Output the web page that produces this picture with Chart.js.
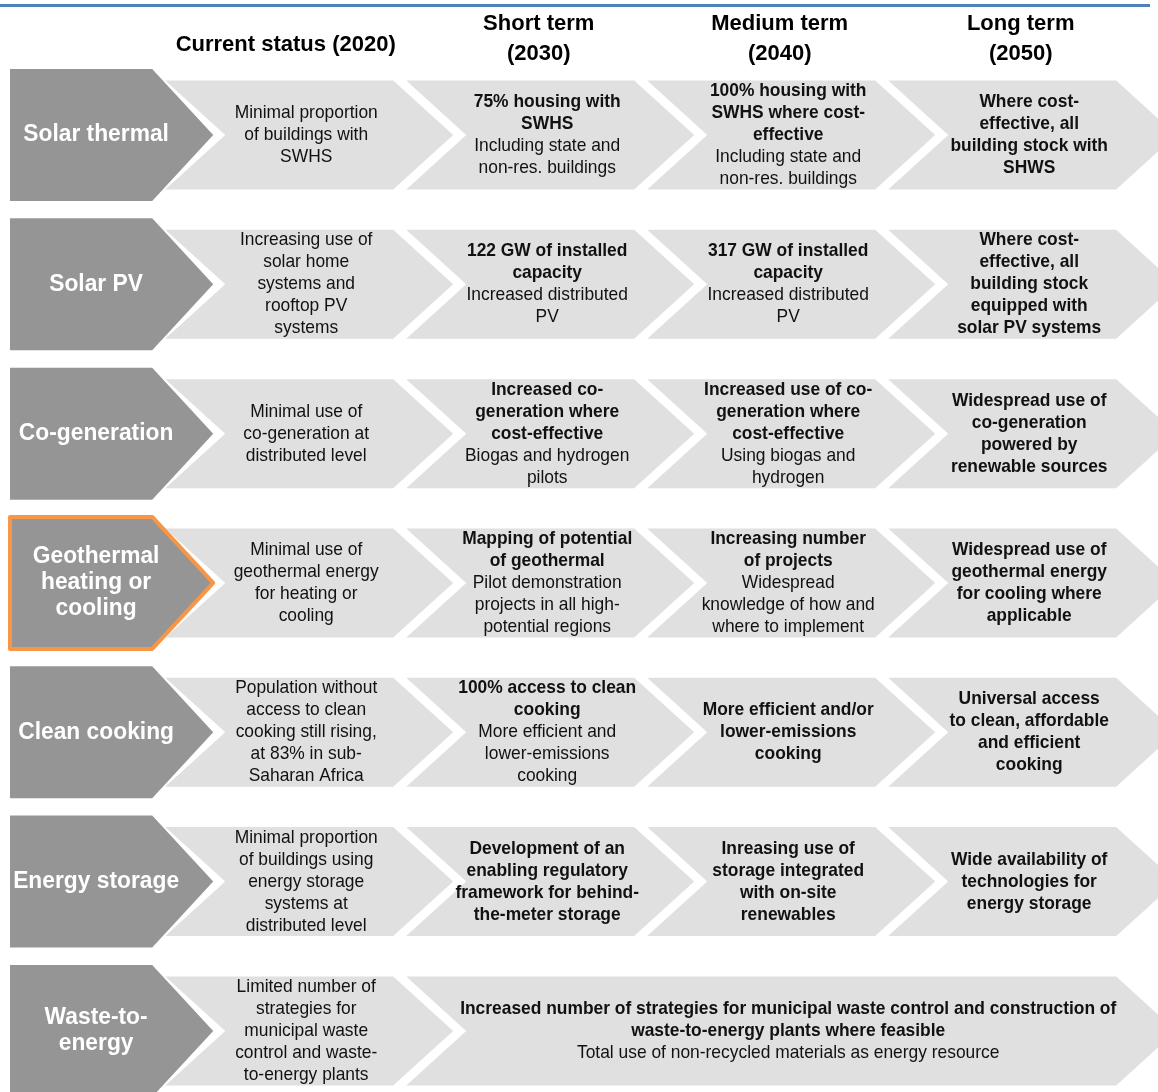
<!DOCTYPE html>
<html>
<head>
<meta charset="utf-8">
<script src="https://cdn.jsdelivr.net/npm/chart.js@4.4.0/dist/chart.umd.min.js"></script>
<style>
  html, body { margin: 0; padding: 0; background: #fff; }
</style>
</head>
<body>
<canvas id="roadmap" width="1158" height="1092"></canvas>
<script>
// Column headers (stages of the roadmap)
const stages = [
  ['Current status (2020)'],
  ['Short term', '(2030)'],
  ['Medium term', '(2040)'],
  ['Long term', '(2050)']
];

// Row labels (technologies)
const techs = [
  ['Solar thermal'],
  ['Solar PV'],
  ['Co-generation'],
  ['Geothermal', 'heating or', 'cooling'],
  ['Clean cooking'],
  ['Energy storage'],
  ['Waste-to-', 'energy']
];
const highlightedRow = 3;

// Cell texts per stage: b = bold lines, r = regular lines, null = merged into the cell before
const currentStatus = [
  { b: [], r: ['Minimal proportion', 'of buildings with', 'SWHS'] },
  { b: [], r: ['Increasing use of', 'solar home', 'systems and', 'rooftop PV', 'systems'] },
  { b: [], r: ['Minimal use of', 'co-generation at', 'distributed level'] },
  { b: [], r: ['Minimal use of', 'geothermal energy', 'for heating or', 'cooling'] },
  { b: [], r: ['Population without', 'access to clean', 'cooking still rising,', 'at 83% in sub-', 'Saharan Africa'] },
  { b: [], r: ['Minimal proportion', 'of buildings using', 'energy storage', 'systems at', 'distributed level'] },
  { b: [], r: ['Limited number of', 'strategies for', 'municipal waste', 'control and waste-', 'to-energy plants'] }
];
const shortTerm = [
  { b: ['75% housing with', 'SWHS'], r: ['Including state and', 'non-res. buildings'] },
  { b: ['122 GW of installed', 'capacity'], r: ['Increased distributed', 'PV'] },
  { b: ['Increased co-', 'generation where', 'cost-effective'], r: ['Biogas and hydrogen', 'pilots'] },
  { b: ['Mapping of potential', 'of geothermal'], r: ['Pilot demonstration', 'projects in all high-', 'potential regions'] },
  { b: ['100% access to clean', 'cooking'], r: ['More efficient and', 'lower-emissions', 'cooking'] },
  { b: ['Development of an', 'enabling regulatory', 'framework for behind-', 'the-meter storage'], r: [] },
  { b: ['Increased number of strategies for municipal waste control and construction of', 'waste-to-energy plants where feasible'],
    r: ['Total use of non-recycled materials as energy resource'] }
];
const mediumTerm = [
  { b: ['100% housing with', 'SWHS where cost-', 'effective'], r: ['Including state and', 'non-res. buildings'] },
  { b: ['317 GW of installed', 'capacity'], r: ['Increased distributed', 'PV'] },
  { b: ['Increased use of co-', 'generation where', 'cost-effective'], r: ['Using biogas and', 'hydrogen'] },
  { b: ['Increasing number', 'of projects'], r: ['Widespread', 'knowledge of how and', 'where to implement'] },
  { b: ['More efficient and/or', 'lower-emissions', 'cooking'], r: [] },
  { b: ['Inreasing use of', 'storage integrated', 'with on-site', 'renewables'], r: [] },
  null
];
const longTerm = [
  { b: ['Where cost-', 'effective, all', 'building stock with', 'SHWS'], r: [] },
  { b: ['Where cost-', 'effective, all', 'building stock', 'equipped with', 'solar PV systems'], r: [] },
  { b: ['Widespread use of', 'co-generation', 'powered by', 'renewable sources'], r: [] },
  { b: ['Widespread use of', 'geothermal energy', 'for cooling where', 'applicable'], r: [] },
  { b: ['Universal access', 'to clean, affordable', 'and efficient', 'cooking'], r: [] },
  { b: ['Wide availability of', 'technologies for', 'energy storage'], r: [] },
  null
];

const columns = [currentStatus, shortTerm, mediumTerm, longTerm];

// build floating bars: stage k spans [k-0.5, end+0.5]
const labelBars = techs.map((t, i) => ({ x: [-0.5, 0.5], y: i, lines: t }));
const cellBars = [];
techs.forEach((t, i) => {
  columns.forEach((col, c) => {
    const cell = col[i];
    if (!cell) return;
    let end = c;
    while (end + 1 < columns.length && !columns[end + 1][i]) end++;
    cellBars.push({ x: [c + 0.5, end + 1.5], y: i, cell: cell });
  });
});

const FONT = '"Liberation Sans", Arial, sans-serif';
const DARK = '#959595';
const LIGHT = '#e0e0e0';
const GAP = 13;

function chevron(ctx, left, right, cy, h, tip, notch) {
  const top = cy - h / 2, bottom = cy + h / 2;
  ctx.beginPath();
  ctx.moveTo(left, top);
  ctx.lineTo(right, top);
  ctx.lineTo(right + tip, cy);
  ctx.lineTo(right, bottom);
  ctx.lineTo(left, bottom);
  if (notch) ctx.lineTo(left + notch, cy);
  ctx.closePath();
}

// slightly condensed text, like the original
function narrowText(ctx, s, x, y, sx) {
  ctx.save();
  ctx.translate(x, y);
  ctx.scale(sx, 1);
  ctx.fillText(s, 0, 0);
  ctx.restore();
}

const roadmapPlugin = {
  id: 'roadmap',
  afterDatasetsDraw(chart) {
    const ctx = chart.ctx;
    const area = chart.chartArea;
    const xs = chart.scales.x;
    ctx.save();

    // blue rule on top
    ctx.fillStyle = '#4f81bd';
    ctx.fillRect(0, 4, 1150, 3);

    // headers
    ctx.fillStyle = '#000';
    ctx.font = 'bold 22px ' + FONT;
    ctx.textAlign = 'center';
    ctx.textBaseline = 'middle';
    stages.forEach((lines, k) => {
      const cx = xs.getPixelForValue(k + 1) + 12;
      if (lines.length === 1) narrowText(ctx, lines[0], cx - 12, 45, 1);
      else lines.forEach((l, j) => narrowText(ctx, l, cx, 24 + j * 30, 1));
    });

    // light chevrons + text
    chart.getDatasetMeta(1).data.forEach((el, i) => {
      const p = el.getProps(['x', 'y', 'base', 'height'], true);
      const left = Math.min(p.x, p.base), right = Math.max(p.x, p.base) - GAP;
      ctx.fillStyle = LIGHT;
      chevron(ctx, left, right, p.y, p.height, 60, 60);
      ctx.fill();
      const cell = cellBars[i].cell;
      const lines = cell.b.map(s => [s, true]).concat(cell.r.map(s => [s, false]));
      const cx = (left + right) / 2 + 27;
      const lh = 22;
      let y = p.y - (lines.length - 1) / 2 * lh;
      ctx.fillStyle = '#111';
      lines.forEach(([s, bold]) => {
        ctx.font = (bold ? 'bold ' : '') + '18.5px ' + FONT;
        narrowText(ctx, s, cx, y, 0.94);
        y += lh;
      });
    });

    // dark label chevrons
    chart.getDatasetMeta(0).data.forEach((el, i) => {
      const p = el.getProps(['x', 'y', 'base', 'height'], true);
      const left = Math.max(Math.min(p.x, p.base), area.left + 10);
      const right = Math.max(p.x, p.base) - GAP;
      chevron(ctx, left, right, p.y, p.height, 61, 0);
      ctx.fillStyle = DARK;
      ctx.fill();
      if (i === highlightedRow) {
        ctx.strokeStyle = '#f79646';
        ctx.lineWidth = 4;
        ctx.lineJoin = 'round';
        ctx.stroke();
      }
      const lines = labelBars[i].lines;
      const cx = (left + right) / 2 + 15;
      let y = p.y - (lines.length - 1) / 2 * 26;
      ctx.fillStyle = '#fff';
      ctx.font = 'bold 23.5px ' + FONT;
      lines.forEach(s => { narrowText(ctx, s, cx, y, 0.97); y += 26; });
    });
    ctx.restore();
  }
};

new Chart(document.getElementById('roadmap').getContext('2d'), {
  type: 'bar',
  data: {
    datasets: [
      { label: 'Technology', data: labelBars, barThickness: 132, grouped: false,
        backgroundColor: 'rgba(0,0,0,0)', borderWidth: 0 },
      { label: 'Stages', data: cellBars, barThickness: 109, grouped: false,
        backgroundColor: 'rgba(0,0,0,0)', borderWidth: 0 }
    ]
  },
  options: {
    indexAxis: 'y',
    responsive: false,
    animation: false,
    events: [],
    layout: { padding: 0 },
    scales: {
      x: { type: 'linear', min: -0.1855, max: 4.6195, offset: false, display: false },
      y: { type: 'linear', reverse: true, min: -0.904, max: 6.409, offset: false, display: false }
    },
    plugins: { legend: { display: false }, tooltip: { enabled: false } }
  },
  plugins: [roadmapPlugin]
});
</script>
</body>
</html>
